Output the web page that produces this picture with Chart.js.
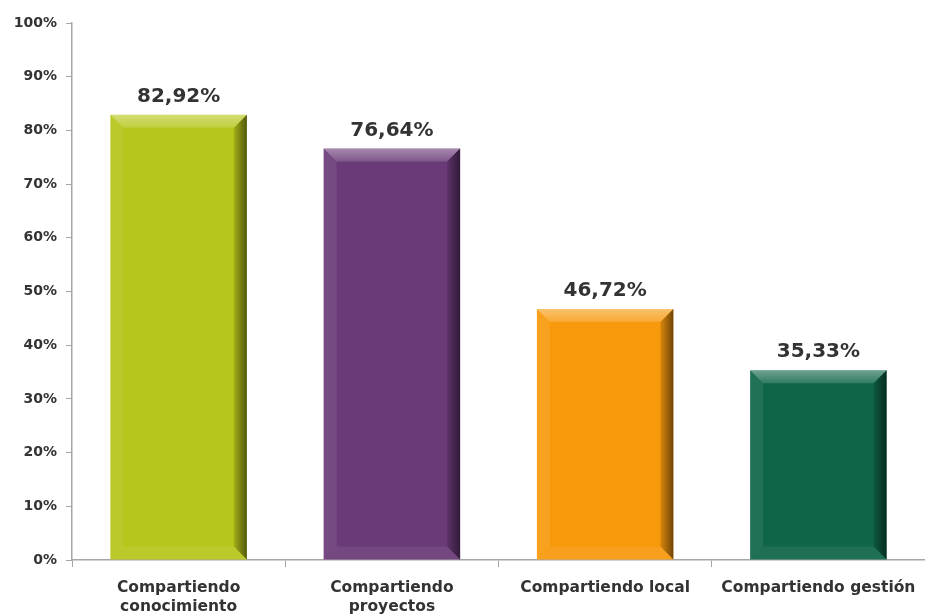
<!DOCTYPE html>
<html>
<head>
<meta charset="utf-8">
<script src="https://cdn.jsdelivr.net/npm/chart.js@4/dist/chart.umd.min.js"></script>
<style>
  html, body { margin: 0; padding: 0; background: #fff; }
  #wrap { width: 925px; height: 616px; }
</style>
</head>
<body>
<div id="wrap"><canvas id="barChart" width="925" height="616"></canvas></div>
<script>
const categories = [['Compartiendo', 'conocimiento'], ['Compartiendo', 'proyectos'], 'Compartiendo local', 'Compartiendo gestión'];
const values = [82.92, 76.64, 46.72, 35.33];
const barColors = ['#b6c61a', '#6a3a78', '#f8990c', '#0e6548'];
const yTicks = [0, 10, 20, 30, 40, 50, 60, 70, 80, 90, 100];

const fontFamily = '"DejaVu Sans", "Noto Sans", sans-serif';

// bevelled look + value labels drawn on top of the library's bar elements
const bevelPlugin = {
  id: 'bevel',
  afterDatasetsDraw(chart) {
    const ctx = chart.ctx;
    const meta = chart.getDatasetMeta(0);
    meta.data.forEach((bar, i) => {
      const p = bar.getProps(['x', 'y', 'base', 'width'], true);
      const l = p.x - p.width / 2, r = p.x + p.width / 2, t = p.y, b = p.base;
      const s = 13;
      ctx.save();
      // top
      const gt = ctx.createLinearGradient(0, t, 0, t + s);
      gt.addColorStop(0, 'rgba(255,255,255,0.4)');
      gt.addColorStop(1, 'rgba(255,255,255,0.15)');
      ctx.fillStyle = gt;
      ctx.beginPath();
      ctx.moveTo(l, t); ctx.lineTo(r, t); ctx.lineTo(r - s, t + s); ctx.lineTo(l + s, t + s);
      ctx.closePath(); ctx.fill();
      // left
      ctx.fillStyle = 'rgba(255,255,255,0.08)';
      ctx.beginPath();
      ctx.moveTo(l, t); ctx.lineTo(l + s, t + s); ctx.lineTo(l + s, b - s); ctx.lineTo(l, b);
      ctx.closePath(); ctx.fill();
      // right
      const g = ctx.createLinearGradient(r - s, 0, r, 0);
      g.addColorStop(0, 'rgba(0,0,0,0.12)');
      g.addColorStop(1, 'rgba(0,0,0,0.55)');
      ctx.fillStyle = g;
      ctx.beginPath();
      ctx.moveTo(r, t); ctx.lineTo(r, b); ctx.lineTo(r - s, b - s); ctx.lineTo(r - s, t + s);
      ctx.closePath(); ctx.fill();
      // bottom
      ctx.fillStyle = 'rgba(255,255,255,0.07)';
      ctx.beginPath();
      ctx.moveTo(l, b); ctx.lineTo(l + s, b - s); ctx.lineTo(r - s, b - s); ctx.lineTo(r, b);
      ctx.closePath(); ctx.fill();
      // value label
      ctx.fillStyle = '#333333';
      ctx.font = 'bold 20px ' + fontFamily;
      ctx.textAlign = 'center';
      ctx.textBaseline = 'bottom';
      ctx.fillText(values[i].toFixed(2).replace('.', ',') + '%', p.x, t - 8);
      ctx.restore();
    });
  }
};

new Chart(document.getElementById('barChart'), {
  type: 'bar',
  data: {
    labels: categories,
    datasets: [{
      data: values,
      backgroundColor: barColors,
      borderWidth: 0,
      categoryPercentage: 0.64,
      barPercentage: 1
    }]
  },
  options: {
    responsive: false,
    animation: false,
    layout: { padding: { top: 23, right: 0, left: 0, bottom: 0 } },
    plugins: {
      legend: { display: false },
      tooltip: { enabled: false }
    },
    scales: {
      x: {
        afterFit: s => { s.height = 56; s.paddingRight = 0; s.paddingLeft = 0; },
        border: { color: '#a6a6a6', width: 1.5 },
        grid: { offset: true, drawOnChartArea: false, drawTicks: true, tickLength: 7, color: '#a6a6a6' },
        ticks: {
          color: '#333333',
          padding: 12,
          maxRotation: 0,
          autoSkip: false,
          font: { family: fontFamily, size: 15.5, weight: 'bold', lineHeight: 1.2 }
        }
      },
      y: {
        min: 0,
        max: 100,
        afterFit: s => { s.width = 72; },
        afterBuildTicks: s => { s.ticks = yTicks.map(v => ({ value: v })); },
        border: { color: '#a6a6a6', width: 1.5 },
        grid: { drawOnChartArea: false, drawTicks: true, tickLength: 6, color: '#a6a6a6' },
        ticks: {
          color: '#333333',
          padding: 9,
          callback: v => v + '%',
          font: { family: fontFamily, size: 14, weight: 'bold' }
        }
      }
    }
  },
  plugins: [bevelPlugin]
});
</script>
</body>
</html>
